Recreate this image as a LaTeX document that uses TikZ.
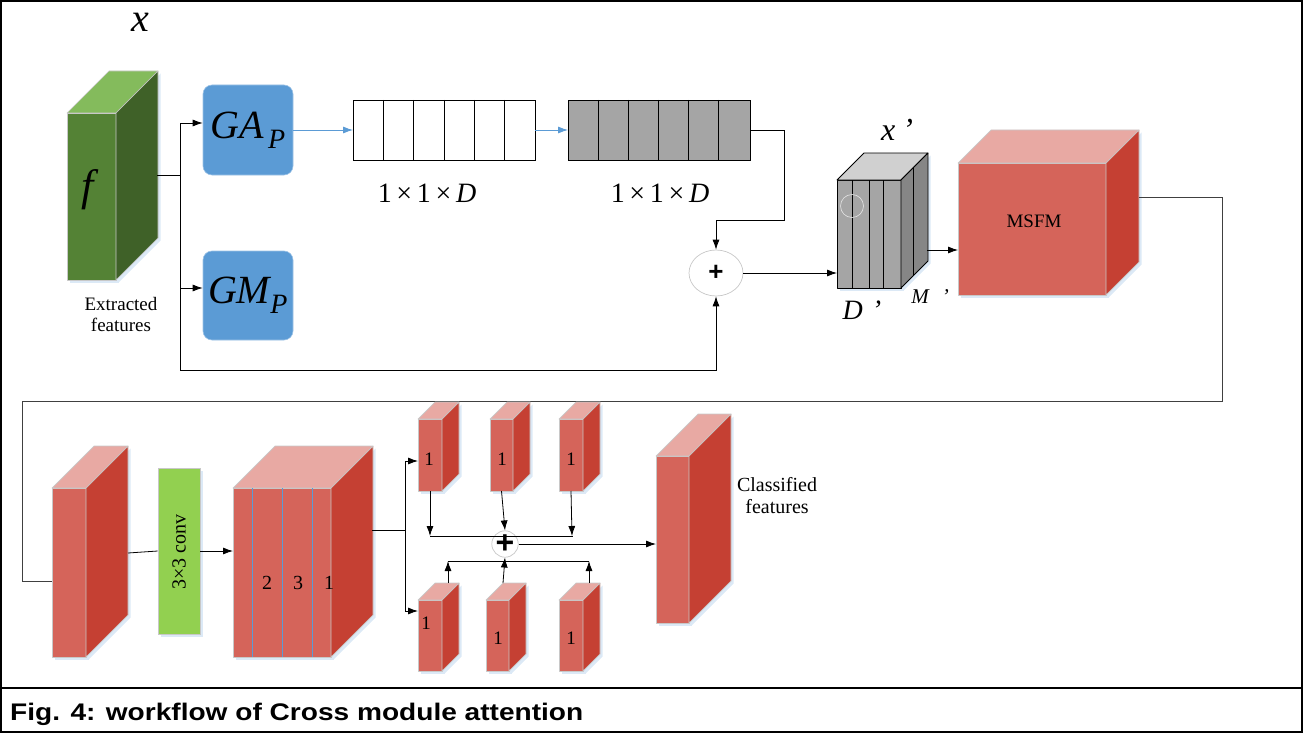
\documentclass[tikz,border=0pt]{standalone}
\usepackage{fontspec}
\setmainfont{Liberation Serif}
\newfontfamily\capfont{Liberation Sans}
\usetikzlibrary{arrows.meta,shapes.geometric,calc}

\definecolor{gfront}{HTML}{548235}
\definecolor{gtop}{HTML}{84BB5C}
\definecolor{gside}{HTML}{3F6128}
\definecolor{rfront}{HTML}{D5645A}
\definecolor{rtop}{HTML}{E8A9A3}
\definecolor{rside}{HTML}{C54033}
\definecolor{kfront}{HTML}{A5A5A5}
\definecolor{ktop}{HTML}{D0D0D0}
\definecolor{kside}{HTML}{868686}
\definecolor{bluebox}{HTML}{5B9BD5}
\definecolor{convgreen}{HTML}{92D050}
\definecolor{edgegray}{HTML}{C8C8C8}
\definecolor{glow}{HTML}{DCE9F6}

\tikzset{
  cubeedge/.style={draw=edgegray, line width=0.7pt, line join=round},
  conn/.style={line width=0.8pt, -{Latex[length=10pt,width=7pt]}},
  plainconn/.style={line width=0.8pt},
  blueconn/.style={line width=0.8pt, draw=bluebox, -{Latex[length=10pt,width=7pt]}},
  gbox/.style={rounded corners=9pt, fill=bluebox, draw=bluebox!60, line width=0.6pt,
    minimum width=90pt, minimum height=90pt, inner sep=0pt, font=\itshape\fontsize{40}{44}\selectfont},
  barbox/.style={draw=black, line width=0.8pt, minimum width=182pt, minimum height=60pt,
    inner sep=0pt, outer sep=0pt, anchor=north west},
  lbl/.style={inner sep=0pt, font=\fontsize{19}{22}\selectfont},
  dimlbl/.style={inner sep=0pt, font=\fontsize{28}{32}\selectfont},
  addcirc/.style={circle, draw=edgegray, line width=0.7pt, fill=white, minimum size=24pt,
    inner sep=0pt, font=\capfont\bfseries\fontsize{32}{32}\selectfont},
}

% name, x, y (front top-left), width, height, depth, front, top, side
\newcommand\cuboid[9]{%
  \fill[glow] ([shift={(2.5,2.5)}]#2,#3) rectangle ++(#4,#5);
  \fill[glow] ([shift={(2.5,2.5)}]#2+#4,#3) -- ++(#6,-#6) -- ++(0,#5) -- ++(-#6,#6) -- cycle;
  \node[cubeedge, fill=#7, anchor=north west, minimum width=#4pt, minimum height=#5pt,
        inner sep=0pt, outer sep=0pt] (#1) at (#2,#3) {};
  \filldraw[cubeedge, fill=#8] (#1.north west) -- ++(#6,-#6)
     -- ([shift={(#6,-#6)}]#1.north east) -- (#1.north east) -- cycle;
  \filldraw[cubeedge, fill=#9] (#1.north east) -- ++(#6,-#6)
     -- ([shift={(#6,-#6)}]#1.south east) -- (#1.south east) -- cycle;
}

\begin{document}
\begin{tikzpicture}[x=1pt, y=-1pt]
\useasboundingbox (0,0) rectangle (1303,733);

% frame and caption strip
\draw[line width=2pt] (1,1) rectangle (1302,732);
\draw[line width=2pt] (1,688) -- (1302,688);
\node[anchor=base west, inner sep=0pt, font=\capfont\bfseries\fontsize{24}{28}\selectfont]
  (cap) at (10,720) {\scalebox{1.17}[1]{Fig. 4: workflow of Cross module attention}};

% ---------- upper row ----------
\cuboid{feat}{67}{113}{49}{167}{42}{gfront}{gtop}{gside}
\node[inner sep=0pt, font=\itshape\fontsize{40}{44}\selectfont] (xlbl) at (140,22) {x};
\node[inner sep=0pt, font=\itshape\fontsize{44}{48}\selectfont] (flbl) at (88,190) {f};
\node[lbl, align=center] (extr) at (121,314) {Extracted\\[-1pt]features};

\node[gbox] (ga) at (248,130) {GA\textsubscript{\,\itshape P}};
\node[gbox, minimum height=89pt] (gm) at (248,295.5) {GM\textsubscript{\itshape P}};

\coordinate (fout) at (157,175);
\coordinate (fj) at (180,175);
\draw[plainconn] (fout) -- (fj);
\draw[conn] (fj) -- (180,123) -- (180,123 -| ga.west);
\draw[conn] (fj) -- (180,288) -- (180,288 -| gm.west);

\node[barbox, fill=white] (bar1) at (353,100) {};
\foreach \k in {1,...,5} \draw[line width=0.8pt] ($(bar1.north west)+(\k*30.33,0)$) -- ++(0,60);
\node[barbox, fill=kfront] (bar2) at (568,100) {};
\foreach \k in {1,...,5} \draw[line width=0.8pt] ($(bar2.north west)+(\k*30.17,0)$) -- ++(0,60);
\node[dimlbl] (d1) at (427,193) {1\,×\,1\,×\,\textit{D}};
\node[dimlbl] (d2) at (660,193) {1\,×\,1\,×\,\textit{D}};

\draw[blueconn] (ga.east |- bar1.west) -- (bar1.west);
\draw[blueconn] (bar1.east) -- (bar2.west);

\node[ellipse, draw=edgegray, line width=0.7pt, fill=white, minimum width=54pt,
      minimum height=46pt, inner sep=0pt, font=\capfont\bfseries\fontsize{26}{26}\selectfont] (sum1) at (716,273) {+};
\draw[conn] (bar2.east) -- (784,130) -- (784,220) -- (716,220) -- (sum1.north);
\coordinate (bj) at (180,370);
\draw[conn] (fj) -- (bj) -- (716,370) -- (sum1.south);

\begin{scope}[cubeedge/.style={draw=black, line width=0.8pt, line join=round}]
\cuboid{xp}{837}{180}{64}{108}{27}{kfront}{ktop}{kside}
\end{scope}
\foreach \xx in {852,869,883} \draw[line width=0.8pt] (\xx,180) -- (\xx,288);
\draw[line width=0.8pt] (913,167.5) -- (913,275.5);
\node[circle, draw=white!80!gray, line width=0.6pt, minimum size=23pt, inner sep=0pt] (spot) at (852,206) {};
\node[inner sep=0pt, font=\itshape\fontsize{32}{36}\selectfont] (xplbl) at (897,130) {x\hspace{7pt}'};
\node[inner sep=0pt, font=\itshape\fontsize{28}{32}\selectfont] (dplbl) at (862,310) {D\hspace{9pt}'};
\node[inner sep=0pt, font=\itshape\fontsize{21}{24}\selectfont] (mplbl) at (930,297) {M\hspace{13pt}'};

\draw[conn] (sum1.east) -- (sum1.east -| xp.west);

\cuboid{msfm}{958}{163}{148}{132}{33}{rfront}{rtop}{rside}
\node[inner sep=0pt, font=\fontsize{19}{22}\selectfont] (msfmlbl) at (1034,221) {MSFM};
\coordinate (xpout) at (927,250);
\draw[conn] (xpout) -- (xpout -| msfm.west);

% loop down to the lower row
\cuboid{r1}{52}{488}{34}{169}{42}{rfront}{rtop}{rside}
\coordinate (mout) at (1139,197);
\draw[line width=0.9pt, draw=black!75] (mout) -- (1222,197) -- (1222,401) -- (22,401) -- (22,581) -- (22,581 -| r1.west);

% ---------- lower row ----------
\fill[glow] (160.5,470.5) rectangle ++(42,166);
\node[fill=convgreen, draw=edgegray, line width=0.7pt, minimum width=42pt, minimum height=166pt,
      inner sep=0pt] (conv) at (179,551) {};
\node[rotate=90, inner sep=0pt, font=\fontsize{20}{22}\selectfont] (convlbl) at (179,552) {3×3 conv};
\coordinate (r1out) at (128,553);
\draw[plainconn] (r1out) -- (conv.west);

\cuboid{r2}{233}{488}{98}{169}{42}{rfront}{rtop}{rside}
\foreach \xx in {252,282,312} \draw[bluebox, line width=0.7pt] (\xx,488) -- (\xx,657);
\node[lbl, font=\fontsize{20}{22}\selectfont] (n2) at (267,583) {2};
\node[lbl, font=\fontsize{20}{22}\selectfont] (n3) at (298,583) {3};
\node[lbl, font=\fontsize{20}{22}\selectfont] (n1) at (329,583) {1};
\draw[conn] (conv.east) -- (conv.east -| r2.west);

\cuboid{t1}{418}{419}{24}{72}{17}{rfront}{rtop}{rside}
\cuboid{t2}{490}{419}{23}{72}{17}{rfront}{rtop}{rside}
\cuboid{t3}{559}{419}{24}{72}{17}{rfront}{rtop}{rside}
\cuboid{b1}{418}{600}{24}{71}{17}{rfront}{rtop}{rside}
\cuboid{b2}{486}{600}{23}{71}{17}{rfront}{rtop}{rside}
\cuboid{b3}{559}{600}{24}{71}{17}{rfront}{rtop}{rside}
\node[lbl] at (429,459) {1};
\node[lbl] at (502,459) {1};
\node[lbl] at (571,459) {1};
\node[lbl] at (426,623) {1};
\node[lbl] at (498,638) {1};
\node[lbl] at (571,638) {1};

\coordinate (r2out) at (372,530);
\coordinate (sj) at (405,530);
\draw[plainconn] (r2out) -- (sj);
\draw[conn] (sj) -- (405,461) -- (405,461 -| t1.west);
\draw[conn] (sj) -- (405,611) -- (405,611 -| b1.west);

\node[addcirc] (sum2) at (505,544) {+};
\draw[plainconn] (430,536) -- (573,536);
\draw[conn] (t1.south) -- (430,536);
\draw[conn] (t2.south) -- (sum2.north);
\draw[conn] (t3.south) -- (572,536);

\draw[plainconn] (448,561) -- (589,561);
\coordinate (b1top) at (448,583);
\coordinate (b2top) at (503,583);
\coordinate (b3top) at (589,583);
\draw[conn] (b1top) -- (448,561);
\draw[conn] (b2top) -- (sum2.south);
\draw[conn] (b3top) -- (589,561);

\cuboid{cls}{656}{456}{33}{167}{42}{rfront}{rtop}{rside}
\draw[conn] (sum2.east) -- (sum2.east -| cls.west);
\node[inner sep=0pt, align=center, font=\fontsize{20}{23}\selectfont] (clslbl) at (777,496) {Classified\\[-1pt]features};

\end{tikzpicture}
\end{document}
